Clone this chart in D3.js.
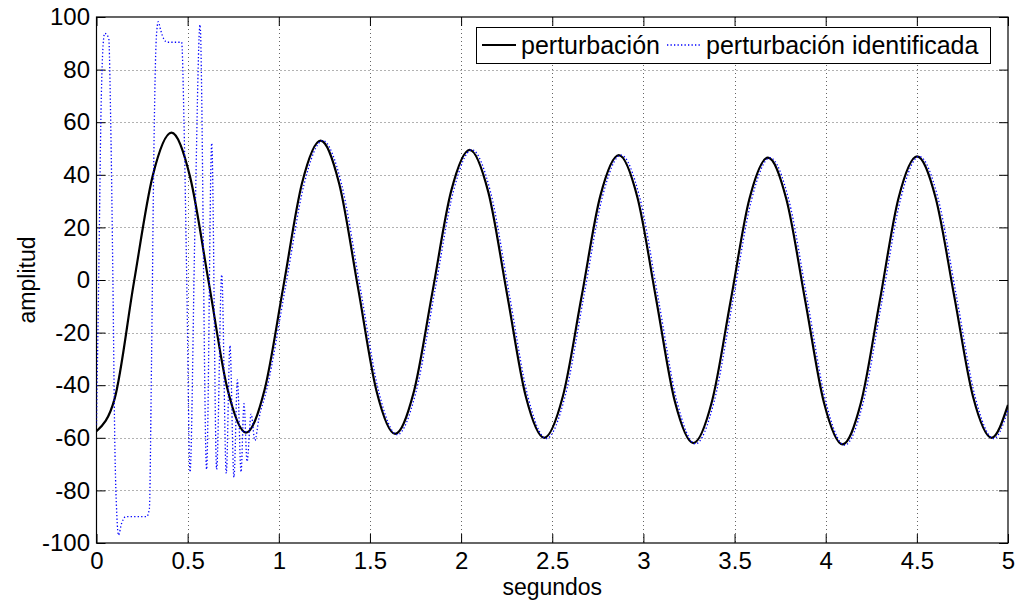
<!DOCTYPE html>
<html><head><meta charset="utf-8">
<script src="https://cdn.jsdelivr.net/npm/d3@7"></script>
<style>
body{margin:0;background:#fff;}
svg{display:block;font-family:"Liberation Sans",Arial,Helvetica,sans-serif;}
</style></head>
<body>
<svg id="chart" width="1015" height="602"></svg>
<script>
// ---- data ----
const xTicks = [0,0.5,1,1.5,2,2.5,3,3.5,4,4.5,5];
const xTickLabels = ["0","0.5","1","1.5","2","2.5","3","3.5","4","4.5","5"];
const yTicks = [-100,-80,-60,-40,-20,0,20,40,60,80,100];
const yTickLabels = ["-100","-80","-60","-40","-20","0","20","40","60","80","100"];
const seriesNames = ["perturbación","perturbación identificada"];

// perturbación (black)
const blackT = [0,0.1,0.205,0.308,0.411,0.513,0.616,0.718,0.820,0.922,1.025,1.127,1.229,1.331,1.434,1.536,1.638,1.740,1.843,1.945,2.047,2.149,2.252,2.354,2.456,2.558,2.661,2.763,2.865,2.967,3.070,3.172,3.274,3.376,3.479,3.581,3.683,3.785,3.888,3.990,4.092,4.194,4.297,4.399,4.501,4.603,4.706,4.808,4.910,5.0];
const blackV = [-57.5,-45,-1,39.5,56,39.3,-1,-41.3,-58,-41.7,-2.5,36.7,53,36.7,-2.7,-42.2,-58.5,-42.7,-4.5,33.7,49.5,33.5,-5.3,-44,-60,-44.3,-6.3,31.8,47.5,31.5,-7.3,-46,-62,-46.2,-7.8,30.7,46.5,30.5,-8,-46.5,-62.5,-46.5,-7.8,31,47,31.3,-6.5,-44.3,-60,-47.5];

// perturbación identificada (blue dotted)
const blueT = [0,0.012,0.025,0.038,0.045,0.067,0.078,0.09,0.1,0.112,0.12,0.138,0.16,0.275,0.29,0.302,0.315,0.328,0.339,0.352,0.37,0.389,0.467,0.48,0.495,0.513,0.54,0.568,0.604,0.632,0.659,0.687,0.712,0.732,0.754,0.773,0.793,0.809,0.826,0.848,0.869,0.89,0.934,1.037,1.139,1.241,1.343,1.446,1.548,1.650,1.752,1.855,1.957,2.059,2.161,2.264,2.366,2.468,2.570,2.673,2.775,2.877,2.979,3.082,3.184,3.286,3.388,3.491,3.593,3.695,3.797,3.900,4.002,4.104,4.206,4.309,4.411,4.513,4.615,4.718,4.820,4.922,5.0];
const blueV = [-55,0,65,91,93.8,92,60,0,-60,-90,-97,-92.5,-90,-90,-87,-30,50,92,98.2,95,91.5,90.4,90.4,60,0,-73,20,97,-72,52,-72,2,-73.5,-25,-75,-38,-73,-47,-69,-51,-61,-53,-41.5,-2.5,36.5,53,36.8,-2.7,-42.4,-58.8,-42.7,-4.5,33.5,49.5,33.6,-5.3,-44.2,-60.3,-44.3,-6.3,31.6,47.5,31.6,-7.3,-46.2,-62.3,-46.2,-7.8,30.5,46.5,30.6,-8,-46.7,-62.8,-46.5,-7.8,30.8,47,31.4,-6.5,-44.5,-60.3,-49.5];

// ---- layout ----
const svg = d3.select("#chart");
const L = 96.5, R = 1008, T = 17, B = 543;
const x = d3.scaleLinear().domain([0,5]).range([L,R]);
const y = d3.scaleLinear().domain([-100,100]).range([B,T]);

svg.append("rect").attr("x",0).attr("y",0).attr("width",1015).attr("height",602).attr("fill","#fff");
svg.append("rect").attr("x",L).attr("y",T).attr("width",R-L).attr("height",B-T).attr("fill","#fff");

// grid
const grid = svg.append("g").attr("stroke","#000").attr("stroke-width",1).attr("stroke-dasharray","1,3").attr("opacity",0.6);
grid.selectAll(".gx").data(xTicks.slice(1,-1)).join("line")
  .attr("x1",d=>Math.round(x(d))+0.5).attr("x2",d=>Math.round(x(d))+0.5).attr("y1",T).attr("y2",B);
grid.selectAll(".gy").data(yTicks.slice(1,-1)).join("line")
  .attr("y1",d=>Math.round(y(d))+0.5).attr("y2",d=>Math.round(y(d))+0.5).attr("x1",L).attr("x2",R);

// axes
const fs = 24;
const xa = svg.append("g").attr("transform",`translate(0,${B})`)
  .call(d3.axisBottom(x).tickValues(xTicks).tickFormat((d,i)=>xTickLabels[i]).tickSizeInner(-9).tickSizeOuter(0).tickPadding(9));
const ya = svg.append("g").attr("transform",`translate(${L},0)`)
  .call(d3.axisLeft(y).tickValues(yTicks).tickFormat((d,i)=>yTickLabels[i]).tickSizeInner(-9).tickSizeOuter(0).tickPadding(6.5));
const xt = svg.append("g").attr("transform",`translate(0,${T})`)
  .call(d3.axisTop(x).tickValues(xTicks).tickFormat("").tickSizeInner(-9).tickSizeOuter(0));
const yr = svg.append("g").attr("transform",`translate(${R},0)`)
  .call(d3.axisRight(y).tickValues(yTicks).tickFormat("").tickSizeInner(-9).tickSizeOuter(0));
[xa,ya,xt,yr].forEach(g=>{
  g.select(".domain").remove();
  g.selectAll("line").attr("stroke","#000");
  g.selectAll("text").attr("fill","#000").style("font-size",fs+"px").style("font-family","'Liberation Sans',Arial,sans-serif");
});
svg.append("rect").attr("x",L).attr("y",T).attr("width",R-L).attr("height",B-T)
  .attr("fill","none").attr("stroke","#000").attr("stroke-width",1.2);

// clip
svg.append("clipPath").attr("id","clip").append("rect").attr("x",L).attr("y",T-2).attr("width",R-L).attr("height",B-T+4);

const line = d3.line().x(d=>x(d[0])).y(d=>y(d[1])).curve(d3.curveMonotoneX);
const blackData = blackT.map((t,i)=>[t,blackV[i]]);
const blueData = blueT.map((t,i)=>[t,blueV[i]]);

const plot = svg.append("g").attr("clip-path","url(#clip)");
plot.append("path").datum(blackData).attr("d",line).attr("fill","none").attr("stroke","#000").attr("stroke-width",2.2);
plot.append("path").datum(blueData).attr("d",line).attr("fill","none").attr("stroke","#0000ff").attr("stroke-width",1.3).attr("stroke-dasharray","1.3,2.2");

// axis titles
const tfs = 23;
svg.append("text").attr("x",(L+R)/2).attr("y",595).attr("text-anchor","middle").style("font-size",tfs+"px").text("segundos");
svg.append("text").attr("transform","translate(35,280) rotate(-90)").attr("text-anchor","middle").style("font-size",tfs+"px").text("amplitud");

// legend
const lfs = 25;
const lg = svg.append("g");
lg.append("rect").attr("x",476.5).attr("y",27.5).attr("width",514).attr("height",36).attr("fill","#fff").attr("stroke","#000").attr("stroke-width",1);
lg.append("line").attr("x1",482).attr("x2",516).attr("y1",45).attr("y2",45).attr("stroke","#000").attr("stroke-width",2.2);
lg.append("text").attr("x",521).attr("y",54).style("font-size",lfs+"px").text(seriesNames[0]);
lg.append("line").attr("x1",667).attr("x2",702).attr("y1",45).attr("y2",45).attr("stroke","#0000ff").attr("stroke-width",1.3).attr("stroke-dasharray","1.3,2.2");
lg.append("text").attr("x",706).attr("y",54).style("font-size",lfs+"px").text(seriesNames[1]);
</script>
</body></html>
